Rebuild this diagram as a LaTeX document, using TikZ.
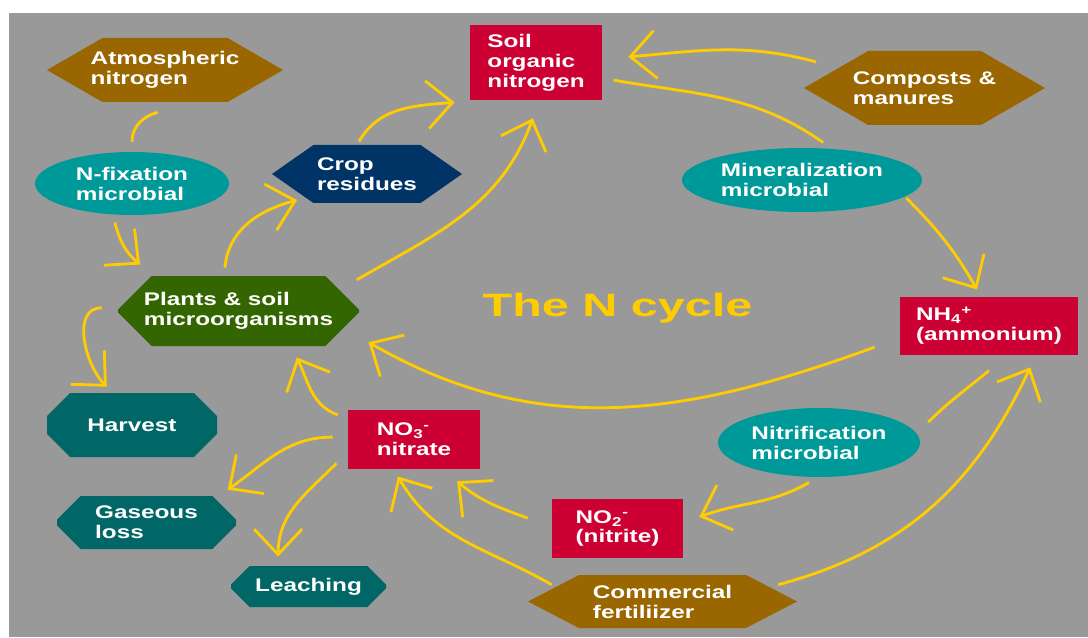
\documentclass[tikz,border=0pt]{standalone}
\usepackage{fontspec}
\usepackage{xcolor}
\usepackage{tikz}
\usetikzlibrary{arrows.meta,shapes.geometric,shapes.symbols,shapes.misc}

\newfontfamily\cyclefont[FakeStretch=1.33]{Liberation Sans}
\newfontfamily\titlefont[FakeStretch=1.5]{Liberation Sans}

\definecolor{nbrown}{HTML}{996600}
\definecolor{nnavy}{HTML}{003366}
\definecolor{nred}{HTML}{CC0033}
\definecolor{ngreen}{HTML}{336600}
\definecolor{nteal}{HTML}{009999}
\definecolor{ndarkteal}{HTML}{006666}
\definecolor{nyellow}{HTML}{FFCC00}
\definecolor{ngray}{HTML}{999999}

\tikzset{
  lbl/.style={text=white, align=left, inner sep=0pt,
    font=\cyclefont\bfseries\fontsize{13}{14.2}\selectfont},
  poolbox/.style={lbl, rectangle, fill=nred},
  hexbox/.style={lbl, signal, signal from=nowhere, signal to=west and east, signal pointer angle=60},
  octbox/.style={lbl, chamfered rectangle, fill=ndarkteal,
    chamfered rectangle xsep=0.65cm, chamfered rectangle ysep=0.42cm},
  microbe/.style={lbl, ellipse, fill=nteal},
  flowline/.style={draw=nyellow, line width=2pt},
  flowarrow/.style={flowline, -{Straight Barb[length=18pt,width=34pt]}}
}

\begin{document}
\begin{tikzpicture}
  % page: white margin at top and left, grey field
  \useasboundingbox (0,0) rectangle (27.2,15.925);
  \fill[white] (0,0) rectangle (27.2,15.925);
  \fill[ngray] (0.225,0) rectangle (27.2,15.6);

  % sources and pools
  \node[hexbox, fill=nbrown, inner xsep=-0.3cm, minimum width=5.9cm, minimum height=1.6cm] (atmo) at (4.125,14.175) {Atmospheric\\nitrogen};
  \node[microbe, minimum width=4.85cm, minimum height=1.575cm] (nfix) at (3.3,11.3375) {N-fixation\\microbial};
  \node[hexbox, fill=nnavy, signal pointer angle=70, minimum width=4.75cm, minimum height=1.45cm] (crop) at (9.175,11.575) {Crop\\residues};
  \node[poolbox, minimum width=3.3cm, minimum height=1.875cm] (soil) at (13.4,14.3625) {Soil\\organic\\nitrogen};
  \node[hexbox, fill=nbrown, inner xsep=-0.38cm, minimum width=6.025cm, minimum height=1.85cm] (compost) at (23.1125,13.725) {Composts \&\\manures};
  \node[microbe, minimum width=6.0cm, minimum height=1.6cm] (miner) at (20.05,11.425) {Mineralization\\microbial};
  \node[poolbox, minimum width=4.45cm, minimum height=1.45cm] (nh4) at (24.725,7.775) {NH\textsubscript{4}\textsuperscript{+}\\(ammonium)};
  \node[octbox, fill=ngreen, chamfered rectangle xsep=0.72cm, chamfered rectangle ysep=0.38cm,
    minimum width=6.025cm, minimum height=1.75cm] (plants) at (5.9625,8.15) {Plants \& soil\\microorganisms};
  \node[octbox, minimum width=4.25cm, minimum height=1.6cm] (harvest) at (3.3,5.3) {Harvest};
  \node[octbox, chamfered rectangle xsep=0.58cm, chamfered rectangle ysep=0.18cm,
    minimum width=4.475cm, minimum height=1.325cm] (gas) at (3.6625,2.8625) {Gaseous\\loss};
  \node[octbox, chamfered rectangle xsep=0.43cm, chamfered rectangle ysep=0.25cm,
    minimum width=3.875cm, minimum height=1.025cm] (leach) at (7.7125,1.2625) {Leaching};
  \node[poolbox, minimum width=3.3cm, minimum height=1.475cm] (no3) at (10.35,4.9375) {NO\textsubscript{3}\textsuperscript{-}\\nitrate};
  \node[poolbox, minimum width=3.275cm, minimum height=1.475cm] (no2) at (15.4375,2.7125) {NO\textsubscript{2}\textsuperscript{-}\\(nitrite)};
  \node[microbe, minimum width=5.05cm, minimum height=1.725cm] (nitri) at (20.475,4.8625) {Nitrification\\microbial};
  \node[hexbox, fill=nbrown, signal pointer angle=55, minimum width=6.725cm, minimum height=1.325cm] (fert) at (16.5625,0.8875) {Commercial\\fertiliizer};

  % title
  \node[text=nyellow, anchor=base, inner sep=0pt,
    font=\titlefont\bfseries\fontsize{23}{26}\selectfont] (title) at (15.4375,8.025) {The N cycle};

  % upper half of the cycle
  \draw[flowline] ([xshift=-0.18cm,yshift=-0.25cm]atmo.south) to[out=195,in=90] ([yshift=0.25cm]nfix.north);
  \draw[flowarrow] ([xshift=-0.43cm,yshift=-0.18cm]nfix.south) to[out=-75,in=140] ([xshift=-2.46cm,yshift=0.28cm]plants.north);
  \draw[flowarrow] ([xshift=-0.34cm,yshift=0.2cm]plants.north) to[out=85,in=195] ([xshift=-1.75cm,yshift=0.08cm]crop.south);
  \draw[flowarrow] ([xshift=-0.2cm,yshift=0.08cm]crop.north) to[out=60,in=185] ([xshift=-0.38cm,yshift=-0.05cm]soil.south west);
  \draw[flowarrow] ([xshift=2.96cm,yshift=-0.1cm]plants.north) to[out=30,in=250] ([xshift=-0.08cm,yshift=-0.45cm]soil.south);
  \draw[flowarrow] ([xshift=-2.71cm,yshift=-0.28cm]compost.north) to[out=165,in=5] ([xshift=0.65cm,yshift=0.14cm]soil.east);
  \draw[flowline] ([xshift=0.28cm,yshift=-0.44cm]soil.east) to[out=-10,in=145] ([xshift=0.53cm,yshift=0.13cm]miner.north);
  \draw[flowarrow] ([xshift=-0.4cm,yshift=-0.45cm]miner.east) to[out=-45,in=120] ([xshift=-0.3cm,yshift=0.18cm]nh4.north);
  \draw[flowarrow] ([xshift=-0.63cm,yshift=-0.53cm]nh4.west) to[out=200,in=-30] ([xshift=0.23cm,yshift=-0.78cm]plants.east);

  % losses from plants and nitrate
  \draw[flowarrow] ([xshift=-0.4cm,yshift=0.08cm]plants.west) to[out=180,in=135] ([xshift=-0.63cm,yshift=0.15cm]harvest.north);
  \draw[flowarrow] ([xshift=-0.25cm,yshift=-0.13cm]no3.north west) to[out=160,in=-65] ([xshift=1.46cm,yshift=-0.28cm]plants.south);
  \draw[flowarrow] ([xshift=-0.38cm,yshift=0.06cm]no3.west) to[out=180,in=35] ([xshift=2.03cm,yshift=0.15cm]gas.north);
  \draw[flowarrow] ([xshift=-0.28cm,yshift=0.15cm]no3.south west) to[out=225,in=90] ([xshift=-0.76cm,yshift=0.23cm]leach.north);

  % nitrification and fertilizer inputs
  \draw[flowline] ([yshift=-0.38cm]nh4.south) to[out=220,in=45] ([xshift=0.2cm,yshift=0.51cm]nitri.east);
  \draw[flowarrow] ([xshift=-0.25cm,yshift=-0.13cm]nitri.south) to[out=210,in=20] ([xshift=0.4cm,yshift=0.29cm]no2.east);
  \draw[flowarrow] ([xshift=-0.6cm,yshift=0.26cm]no2.west) to[out=160,in=-40] ([xshift=-0.58cm,yshift=-0.3cm]no3.south east);
  \draw[flowarrow] ([xshift=-2.77cm,yshift=-0.25cm]fert.north) to[out=150,in=-60] ([xshift=-0.4cm,yshift=-0.18cm]no3.south);
  \draw[flowarrow] ([xshift=2.89cm,yshift=-0.25cm]fert.north) to[out=15,in=-115] ([xshift=1.03cm,yshift=-0.3cm]nh4.south);
\end{tikzpicture}
\end{document}
